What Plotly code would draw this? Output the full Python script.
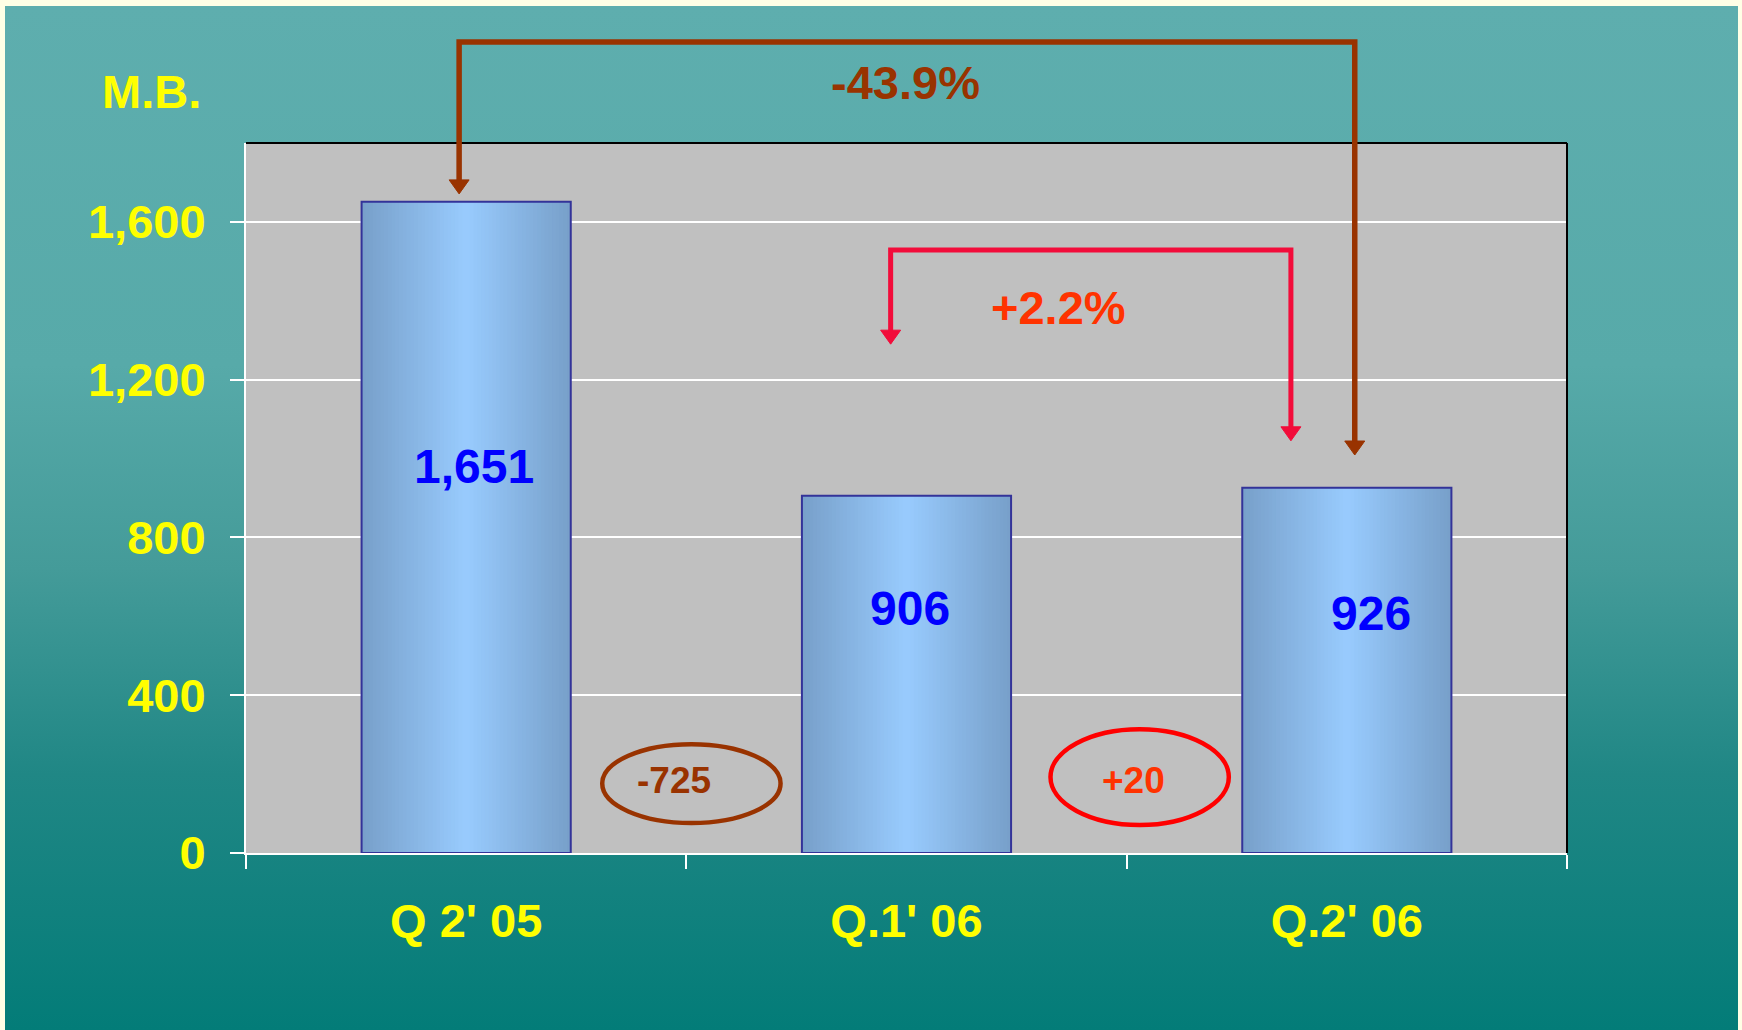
import base64
import plotly.graph_objects as go

# ---------------- data ----------------
categories = ["Q 2' 05", "Q.1' 06", "Q.2' 06"]
values = [1651, 906, 926]
diff_labels = ["-725", "+20"]          # as printed in the chart
y_ticks = [0, 400, 800, 1200, 1600]
unit_label = "M.B."

# ---------------- geometry ----------------
W, H = 1742, 1030
L, R, T, B = 246, 175, 143, 177
PW, PH = W - L - R, H - T - B
YMAX = 1800
FONT = "Liberation Sans, Arial, Helvetica, sans-serif"


def xp(x):
    return (x + 0.5) / len(categories)


def yp(y):
    return y / YMAX


pct_year = (values[2] - values[0]) / values[0] * 100
pct_quarter = (values[2] - values[1]) / values[1] * 100

fig = go.Figure()

# gradient bars (overlayed narrowing bars)
BAR_W = 0.475
EDGE = (120, 160, 202)
CENTER = (153, 204, 255)
N = 28
for i in range(N):
    t = 1 - i / N
    c = tuple(round(CENTER[k] + (EDGE[k] - CENTER[k]) * t) for k in range(3))
    fig.add_trace(go.Bar(
        x=categories, y=values, width=BAR_W * t,
        marker=dict(color=f"rgb{c}", line=dict(width=0)),
        hoverinfo="skip", showlegend=False,
    ))
# outline
fig.add_trace(go.Bar(
    x=categories, y=values, width=BAR_W,
    marker=dict(color="rgba(0,0,0,0)", line=dict(color="#333399", width=2)),
    showlegend=False,
))

# ---------------- background ----------------
svg = (
    "<svg xmlns='http://www.w3.org/2000/svg' width='100' height='100' preserveAspectRatio='none'>"
    "<defs><linearGradient id='g' x1='0' y1='0' x2='0' y2='1'>"
    "<stop offset='0' stop-color='#5EAEAE'/>"
    "<stop offset='0.35' stop-color='#57AAA9'/>"
    "<stop offset='0.55' stop-color='#449B99'/>"
    "<stop offset='0.75' stop-color='#208785'/>"
    "<stop offset='1' stop-color='#037C78'/>"
    "</linearGradient></defs>"
    "<rect width='100' height='100' fill='url(#g)'/></svg>"
)
uri = "data:image/svg+xml;base64," + base64.b64encode(svg.encode()).decode()
bg_x0, bg_x1, bg_y0, bg_y1 = 5, 1738, 6, 1030
fig.add_layout_image(
    source=uri, xref="paper", yref="paper",
    x=(bg_x0 - L) / PW, y=(H - B - bg_y0) / PH,
    sizex=(bg_x1 - bg_x0) / PW, sizey=(bg_y1 - bg_y0) / PH,
    xanchor="left", yanchor="top", sizing="stretch", layer="below",
)

shapes = []
# plot area
shapes.append(dict(type="rect", xref="paper", yref="paper", x0=0, x1=1, y0=0, y1=1,
                   fillcolor="#C0C0C0", line=dict(width=0), layer="below"))
# top & right frame
shapes.append(dict(type="line", xref="paper", yref="paper", x0=0, x1=1, y0=1, y1=1,
                   line=dict(color="black", width=2)))
shapes.append(dict(type="line", xref="paper", yref="paper", x0=1, x1=1, y0=0, y1=1,
                   line=dict(color="black", width=2)))

# bracket arrows
brackets = [
    dict(x0=-0.016, x1=2.018, yh=2056, tip0=1671, tip1=1009, color="#993300", width=5.5),
    dict(x0=0.964, x1=1.873, yh=1529, tip0=1290, tip1=1045, color="#F20C3A", width=5),
]
for b in brackets:
    off = 8 / PH
    path = (f"M{xp(b['x0'])},{yp(b['tip0']) + off} L{xp(b['x0'])},{yp(b['yh'])} "
            f"L{xp(b['x1'])},{yp(b['yh'])} L{xp(b['x1'])},{yp(b['tip1']) + off}")
    shapes.append(dict(type="path", xref="paper", yref="paper", path=path,
                       line=dict(color=b["color"], width=b["width"])))
    for xx, tip in ((b["x0"], b["tip0"]), (b["x1"], b["tip1"])):
        shapes.append(dict(type="path", xref="paper", yref="paper",
                           xsizemode="pixel", ysizemode="pixel",
                           xanchor=xp(xx), yanchor=yp(tip),
                           path="M-10,14 L10,14 L0,0 Z",
                           fillcolor=b["color"], line=dict(color=b["color"], width=1)))

# ellipses around differences
ellipses = [
    dict(x0=0.309, x1=0.714, y0=76, y1=276, color="#993300"),
    dict(x0=1.327, x1=1.732, y0=71, y1=314, color="#FF0000"),
]
for e in ellipses:
    shapes.append(dict(type="circle", xref="x", yref="y", x0=e["x0"], x1=e["x1"],
                       y0=e["y0"], y1=e["y1"], line=dict(color=e["color"], width=4.5)))


def ann(x, y, text, size, color, xref="x", yref="y"):
    return dict(x=x, y=y, xref=xref, yref=yref, text=text, showarrow=False,
                xanchor="center", yanchor="middle",
                font=dict(family=FONT, size=size, color=color, weight="bold"))


annotations = []
# value labels
value_label_pos = [(0.018, 979), (1.009, 619), (2.055, 608)]
for v, (lx, ly) in zip(values, value_label_pos):
    annotations.append(ann(lx, ly, f"{v:,}", 48, "#0000FF"))
# unit
annotations.append(ann((151 - L) / PW, (H - B - 91) / PH, unit_label, 47, "#FFFF00",
                       "paper", "paper"))
# percentages
annotations.append(ann(0.499, (H - B - 83) / PH, f"{pct_year:+.1f}%", 47, "#993300",
                       "paper", "paper"))
annotations.append(ann(1.345, 1382, f"{pct_quarter:+.1f}%", 47, "#FF3300"))
# differences
annotations.append(ann(0.473, 183, diff_labels[0], 37, "#993300"))
annotations.append(ann(1.516, 185, diff_labels[1], 37, "#FF3300"))

fig.update_layout(
    width=W, height=H,
    margin=dict(l=L, r=R, t=T, b=B, pad=0),
    paper_bgcolor="#FFFFE6",
    plot_bgcolor="rgba(0,0,0,0)",
    barmode="overlay",
    showlegend=False,
    shapes=shapes,
    annotations=annotations,
    xaxis=dict(
        type="category", range=[-0.5, 2.5], tickson="boundaries",
        ticks="outside", ticklen=14, tickwidth=2, tickcolor="white",
        showline=True, linecolor="white", linewidth=2, showgrid=False,
        tickfont=dict(family=FONT, size=47, color="#FFFF00", weight="bold"),
        ticklabelstandoff=26,
    ),
    yaxis=dict(
        range=[0, YMAX], tickvals=y_ticks, tickformat=",",
        ticks="outside", ticklen=14, tickwidth=2, tickcolor="white",
        showline=True, linecolor="white", linewidth=2,
        showgrid=True, gridcolor="white", gridwidth=2, zeroline=False,
        tickfont=dict(family=FONT, size=47, color="#FFFF00", weight="bold"),
        ticklabelstandoff=15,
    ),
)

fig.write_html("out.html", config={"displayModeBar": False},
               post_script="document.body.style.margin='0';")
